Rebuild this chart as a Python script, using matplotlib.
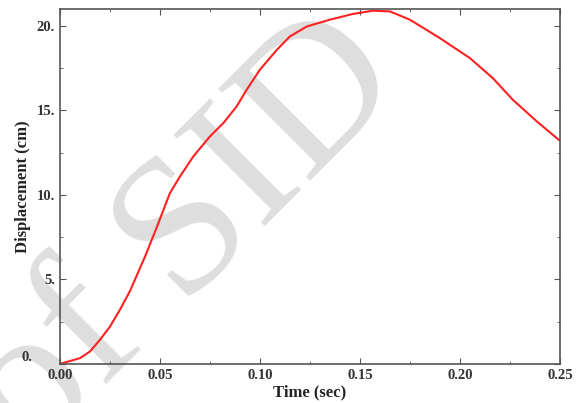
import numpy as np
import matplotlib.pyplot as plt
from matplotlib.ticker import MultipleLocator, FuncFormatter

# valores
time = [0, 0.010, 0.015, 0.020, 0.025, 0.030, 0.035, 0.0425, 0.0485, 0.055,
        0.060, 0.0667, 0.075, 0.0817, 0.0883, 0.0933, 0.100, 0.1085, 0.115,
        0.1235, 0.135, 0.1465, 0.1565, 0.165, 0.175, 0.190, 0.205, 0.2165,
        0.2265, 0.2385, 0.25]
disp = [0, 0.34, 0.73, 1.42, 2.2, 3.2, 4.3, 6.33, 8.1, 10.1,
        11.08, 12.27, 13.45, 14.24, 15.22, 16.2, 17.4, 18.58, 19.37,
        19.96, 20.36, 20.7, 20.89, 20.85, 20.36, 19.27, 18.09, 16.9,
        15.62, 14.34, 13.2]

plt.rcParams['font.family'] = ['Liberation Serif', 'DejaVu Serif']

fig = plt.figure(figsize=(5.76, 4.03), dpi=100)
ax = fig.add_axes([0.104, 0.097, 0.868, 0.881])
ax.patch.set_alpha(0)

# marca d'agua
fig.text(0.322, 0.41, 'of SID', fontsize=142, color='#dedede', rotation=45,
         ha='center', va='center', zorder=-1)

ax.plot(time, disp, color='#ff2020', linewidth=1.5)

ax.set_xlim(0, 0.25)
ax.set_ylim(0, 21)
ax.xaxis.set_major_locator(MultipleLocator(0.05))
ax.xaxis.set_minor_locator(MultipleLocator(0.025))
ax.yaxis.set_major_locator(MultipleLocator(5))
ax.yaxis.set_minor_locator(MultipleLocator(2.5))
ax.xaxis.set_major_formatter(FuncFormatter(lambda v, p: f'{v:.2f}'))
ax.yaxis.set_major_formatter(FuncFormatter(lambda v, p: '' if v == 0 else f'{int(round(v))}.'))

ax.tick_params(which='both', direction='in', top=True, right=True,
               color='#555555', labelsize=10.5, labelcolor='#333333')
ax.tick_params(which='major', length=4)
ax.tick_params(which='minor', length=2)
for lab in ax.get_xticklabels() + ax.get_yticklabels():
    lab.set_fontweight('bold')
for s in ax.spines.values():
    s.set_color('#555555')
    s.set_linewidth(1.2)

# o "0." fica um pouco acima do eixo
ax.text(-0.014, 0, '0.', fontsize=10.5, fontweight='bold', color='#333333',
        ha='right', va='bottom')

ax.set_xlabel('Time (sec)', fontsize=12, fontweight='bold', color='#222222', labelpad=2)
ax.set_ylabel('Displacement (cm)', fontsize=12, fontweight='bold', color='#222222', labelpad=4)

plt.savefig('out.png', dpi=100)
